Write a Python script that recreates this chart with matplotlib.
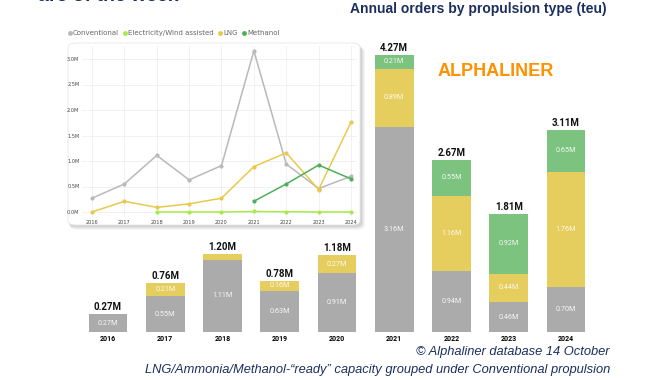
import numpy as np
import matplotlib
matplotlib.use("Agg")
import matplotlib.pyplot as plt
from matplotlib.patches import FancyBboxPatch
from matplotlib.lines import Line2D

W, H = 670, 380
GRAY, YEL, GRN, LIME = "#ababab", "#e5cd5e", "#7cc37f", "#a8ea4a"
LGRAY, LYEL, LGRN = "#b9b9b9", "#e8c94e", "#4fae5a"
NAVY = "#1c2f5e"

years = ["2016", "2017", "2018", "2019", "2020", "2021", "2022", "2023", "2024"]
conv = [0.27, 0.55, 1.11, 0.63, 0.91, 3.16, 0.94, 0.46, 0.70]
lng = [0.005, 0.21, 0.09, 0.16, 0.27, 0.89, 1.16, 0.44, 1.76]
methanol = [0, 0, 0, 0, 0, 0.21, 0.55, 0.92, 0.65]
conv_labels = ["0.27M", "0.55M", "1.11M", "0.63M", "0.91M", "3.16M", "0.94M", "0.46M", "0.70M"]
lng_labels = ["", "0.21M", "", "0.16M", "0.27M", "0.89M", "1.16M", "0.44M", "1.76M"]
meth_labels = ["", "", "", "", "", "0.21M", "0.55M", "0.92M", "0.65M"]
total_labels = ["0.27M", "0.76M", "1.20M", "0.78M", "1.18M", "4.27M", "2.67M", "1.81M", "3.11M"]

# inset line chart series
line_years = [2016, 2017, 2018, 2019, 2020, 2021, 2022, 2023, 2024]
conv_line = [0.27, 0.55, 1.11, 0.63, 0.91, 3.16, 0.94, 0.46, 0.70]
lng_line = [0.0, 0.21, 0.09, 0.16, 0.27, 0.89, 1.16, 0.44, 1.76]
elec_years = [2018, 2019, 2020, 2021, 2022, 2023, 2024]
elec_line = [0.0, 0.0, 0.0, 0.01, 0.005, 0.0, 0.0]
meth_years = [2021, 2022, 2023, 2024]
meth_line = [0.21, 0.55, 0.92, 0.65]


def px(x0, y0, x1, y1):
    """pixel box (top-left origin) -> figure fraction rect"""
    return [x0 / W, 1 - y1 / H, (x1 - x0) / W, (y1 - y0) / H]


fig = plt.figure(figsize=(6.7, 3.8), dpi=100)
fig.patch.set_facecolor("white")

# ---- main stacked bars ----
sp = 57.25
ax = fig.add_axes(px(108 - 0.5 * sp, 332 - 4.5 * 65, 108 + 8.5 * sp, 332))
ax.set_xlim(-0.5, 8.5); ax.set_ylim(0, 4.5)
x = np.arange(len(years))
c, l, m = np.array(conv), np.array(lng), np.array(methanol)
bw = 0.68
ax.bar(x, c, bw, color=GRAY, zorder=2)
ax.bar(x, l, bw, bottom=c, color=YEL, zorder=2)
ax.bar(x, m, bw, bottom=c + l, color=GRN, zorder=2)
lab = dict(ha="center", va="center", color="white", fontsize=5.2, family="Roboto", alpha=0.9)
for i in x:
    ax.text(i, c[i] / 2, conv_labels[i], **lab)
    if lng_labels[i]:
        ax.text(i, c[i] + l[i] / 2, lng_labels[i], **lab)
    if meth_labels[i]:
        ax.text(i, c[i] + l[i] + m[i] / 2, meth_labels[i], **lab)
    ax.text(i, c[i] + l[i] + m[i] + 0.03, total_labels[i], ha="center", va="bottom",
            fontsize=7, fontweight="bold", family="Roboto", color="#111")
ax.set_xticks(x); ax.set_xticklabels(years, fontsize=5, fontweight="bold", family="Roboto")
ax.tick_params(axis="x", length=0, pad=2.5)
ax.set_yticks([])
for s in ax.spines.values():
    s.set_visible(False)

# ---- inset card with shadow ----
bx0, by0, bx1, by1 = 68, 43, 360, 225
for k, a in [(5, 0.07), (4, 0.09), (3, 0.11), (2, 0.13)]:
    fig.patches.append(FancyBboxPatch(((bx0 + k * 0.4) / W, 1 - (by1 + k) / H),
                                      (bx1 - bx0 + k * 0.6) / W, (by1 - by0) / H,
                                      boxstyle="round,pad=0,rounding_size=0.012",
                                      transform=fig.transFigure, fc="#808080", ec="none",
                                      alpha=a, zorder=3))
fig.patches.append(FancyBboxPatch((bx0 / W, 1 - by1 / H), (bx1 - bx0) / W, (by1 - by0) / H,
                                  boxstyle="round,pad=0,rounding_size=0.012",
                                  transform=fig.transFigure, fc="white", ec="#e6e6e6", lw=0.6,
                                  zorder=4))

yr_px = (351 - 92) / 8
ins = fig.add_axes(px(92 - 0.3 * yr_px, 59 - 0.25 * 51, 351 + 0.2 * yr_px, 212 + 0.1 * 51), zorder=5)
ins.patch.set_alpha(0)
ins.set_xlim(2016 - 0.3, 2024 + 0.2); ins.set_ylim(-0.1, 3.25)
ins.grid(True, color="#efefef", lw=0.6); ins.set_axisbelow(True)
lw, ms = 1.1, 2.0
ins.plot(line_years, conv_line, "-o", color=LGRAY, lw=lw, ms=ms, zorder=3)
ins.plot(line_years, lng_line, "-o", color=LYEL, lw=lw, ms=ms, zorder=3)
ins.plot(elec_years, elec_line, "-o", color=LIME, lw=lw, ms=ms, zorder=3)
ins.plot(meth_years, meth_line, "-o", color=LGRN, lw=lw, ms=ms, zorder=4)
ins.set_xticks(line_years); ins.set_xticklabels([str(y) for y in line_years], fontsize=3.6, color="#444")
ins.set_yticks([0, 0.5, 1.0, 1.5, 2.0, 2.5, 3.0])
ins.set_yticklabels(["0.0M", "0.5M", "1.0M", "1.5M", "2.0M", "2.5M", "3.0M"], fontsize=3.6, color="#444")
ins.tick_params(length=0, pad=2)
for s in ins.spines.values():
    s.set_visible(False)

handles = [Line2D([], [], ls="none", marker="o", ms=2.5, color=col)
           for col in [LGRAY, LIME, LYEL, LGRN]]
fig.legend(handles, ["Conventional", "Electricity/Wind assisted", "LNG", "Methanol"],
           loc="center left", bbox_to_anchor=(64 / W, 1 - 33 / H), ncol=4, frameon=False,
           fontsize=5, labelcolor="#666", handletextpad=0.05, columnspacing=0.5,
           borderaxespad=0, handlelength=0.8)

# ---- texts ----
fig.text(478 / W, 1 - 9 / H, "Annual orders by propulsion type (teu)", ha="center", va="center",
         fontsize=10, fontweight="bold", family="Liberation Sans", color=NAVY)
# headline of the slide, cut off at the top edge as in the source
fig.text(108 / W, 1 - (-3.5) / H, "are of the week", ha="center", va="center",
         fontsize=14, fontweight="bold", family="Liberation Sans", color=NAVY)
fig.text(496 / W, 1 - 72 / H, "ALPHALINER", ha="center", va="center",
         fontsize=13, fontweight="bold", family="Liberation Sans", color="#ff9000")
fig.text(610 / W, 1 - 352 / H, "© Alphaliner database 14 October", ha="right", va="center",
         fontsize=9.3, style="italic", family="Liberation Sans", color=NAVY)
fig.text(610 / W, 1 - 370 / H,
         "LNG/Ammonia/Methanol-\u201cready\u201d capacity grouped under Conventional propulsion",
         ha="right", va="center", fontsize=9.3, style="italic", family="Liberation Sans", color=NAVY)

fig.savefig("out.png", dpi=100, facecolor="white")
